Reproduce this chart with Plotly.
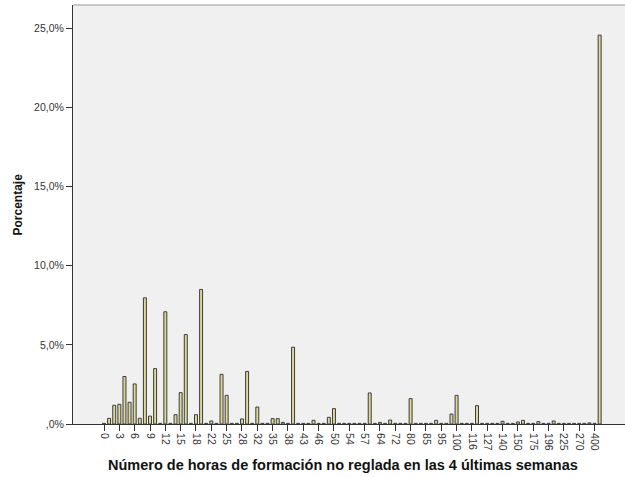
import plotly.graph_objects as go

# Hours of non-formal training in the last 4 weeks (category labels)
horas = [
    "0", "1", "2", "3", "4", "5", "6", "7", "8", "9",
    "10", "11", "12", "13", "14", "15", "16", "17", "18", "20",
    "21", "22", "23", "24", "25", "26", "27", "28", "30", "31",
    "32", "33", "34", "35", "36", "37", "38", "40", "41", "43",
    "44", "45", "46", "48", "49", "50", "52", "53", "54", "55",
    "56", "57", "60", "62", "64", "65", "70", "72", "75", "78",
    "80", "82", "84", "85", "88", "90", "95", "96", "99", "100",
    "105", "110", "116", "120", "125", "127", "128", "130", "140", "144",
    "145", "150", "160", "168", "175", "180", "192", "196", "200", "210",
    "225", "240", "250", "270", "300", "350", "400", "480",
]

# Percentage of respondents for each category
porcentaje = [
    0.04, 0.36, 1.18, 1.24, 3.00, 1.37, 2.53, 0.36, 7.97, 0.50,
    3.50, 0.04, 7.09, 0.04, 0.59, 1.98, 5.65, 0.04, 0.59, 8.50,
    0.04, 0.19, 0.04, 3.14, 1.81, 0.04, 0.04, 0.32, 3.32, 0.04,
    1.07, 0.04, 0.04, 0.34, 0.34, 0.10, 0.04, 4.85, 0.04, 0.04,
    0.04, 0.23, 0.04, 0.04, 0.42, 0.97, 0.04, 0.04, 0.04, 0.04,
    0.04, 0.04, 1.96, 0.04, 0.10, 0.04, 0.25, 0.04, 0.04, 0.04,
    1.60, 0.04, 0.04, 0.04, 0.04, 0.23, 0.04, 0.04, 0.63, 1.81,
    0.04, 0.04, 0.04, 1.16, 0.04, 0.04, 0.04, 0.04, 0.17, 0.04,
    0.04, 0.13, 0.23, 0.04, 0.04, 0.15, 0.04, 0.04, 0.19, 0.04,
    0.04, 0.04, 0.04, 0.04, 0.04, 0.07, 0.04, 24.57,
]

# Only every third category gets a visible tick label
etiquetas = horas[::3]

y_ticks = [0, 5, 10, 15, 20, 25]
y_labels = [",0%", "5,0%", "10,0%", "15,0%", "20,0%", "25,0%"]

fig = go.Figure(
    go.Bar(
        x=list(range(len(horas))),
        y=porcentaje,
        width=0.58,
        marker=dict(color="#DED898", line=dict(color="#3C3C3C", width=1)),
        customdata=horas,
        hovertemplate="%{customdata}: %{y:.1f}%<extra></extra>",
    )
)

fig.update_layout(
    width=625,
    height=477,
    margin=dict(l=73, r=0, t=5, b=53),
    paper_bgcolor="white",
    plot_bgcolor="#F0F0F0",
    showlegend=False,
    font=dict(family="Liberation Sans, Arial, sans-serif", color="#333333"),
    annotations=[
        dict(
            text="<b>Número de horas de formación no reglada en las 4 últimas semanas</b>",
            xref="paper", yref="paper", x=0.4885, y=-0.098,
            xanchor="center", yanchor="middle", showarrow=False,
            font=dict(size=14.5, color="#111111"),
        ),
        dict(
            text="<b>Porcentaje</b>",
            xref="paper", yref="paper", x=-0.1005, y=0.5227,
            xanchor="center", yanchor="middle", showarrow=False, textangle=-90,
            font=dict(size=12, color="#111111"),
        ),
    ],
)

fig.update_xaxes(
    range=[-6.07, 101.96],
    tickmode="array",
    tickvals=list(range(0, len(horas), 3)),
    ticktext=etiquetas,
    tickangle=90,
    ticks="outside",
    ticklen=6,
    tickcolor="#333333",
    tickfont=dict(size=10.5, color="#333333"),
    showline=True,
    linecolor="#333333",
    linewidth=1,
    showgrid=False,
    zeroline=False,
    automargin=False,
)

fig.update_yaxes(
    range=[0, 26.47],
    tickmode="array",
    tickvals=y_ticks,
    ticktext=y_labels,
    ticks="outside",
    ticklen=6,
    tickcolor="#333333",
    tickfont=dict(size=10.5, color="#333333"),
    showline=True,
    linecolor="#333333",
    linewidth=1,
    showgrid=False,
    zeroline=False,
    automargin=False,
)

# Light frame along the top edge of the plotting area
fig.add_shape(
    type="line", xref="paper", yref="paper",
    x0=0, x1=1, y0=1, y1=1,
    line=dict(color="#9A9A9A", width=1),
)

fig.write_html("out.html")
